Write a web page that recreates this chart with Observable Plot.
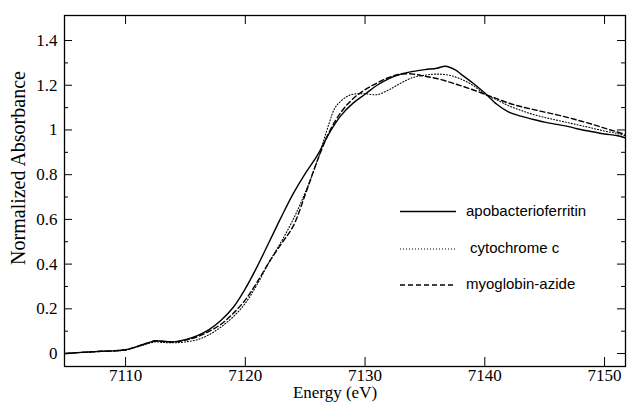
<!DOCTYPE html>
<html><head><meta charset="utf-8">
<script src="https://cdn.jsdelivr.net/npm/d3@7"></script>
<script src="https://cdn.jsdelivr.net/npm/@observablehq/plot@0.6"></script>
<style>
html,body{margin:0;padding:0;background:#fff;}
#wrap{position:relative;width:628px;height:402px;overflow:hidden;}
#legend{position:absolute;left:0;top:0;pointer-events:none;}
</style></head><body><div id="wrap"></div>
<script>
// ---- data ----
const apoE = [7105,7106,7107,7108,7109,7110,7111,7112,7112.5,7113,7114,7115,7116,7117,7118,7119,7120,7121,7122,7123,7124,7125,7126,7127,7128,7129,7130,7131,7132,7133,7134,7135,7136,7136.7,7137.5,7138,7139,7140,7141,7142,7143,7144,7145,7146,7147,7148,7149,7150,7151,7151.7];
const apoA = [0.0,0.004,0.007,0.01,0.012,0.017,0.032,0.05,0.057,0.055,0.052,0.062,0.08,0.108,0.15,0.207,0.29,0.39,0.5,0.61,0.715,0.805,0.885,0.985,1.065,1.12,1.16,1.2,1.23,1.25,1.262,1.27,1.276,1.285,1.27,1.25,1.21,1.165,1.115,1.08,1.062,1.048,1.035,1.025,1.015,1.002,0.992,0.982,0.975,0.965];

const cytE = [7105,7106,7107,7108,7109,7110,7111,7112,7112.5,7113,7114,7115,7116,7117,7118,7119,7120,7121,7122,7123,7124,7125,7126,7127,7127.5,7128,7128.5,7129,7130,7131,7132,7133,7134,7135,7136,7137,7138,7139,7140,7141,7142,7143,7144,7145,7146,7147,7148,7149,7150,7151,7151.7];
const cytA = [0.0,0.004,0.007,0.01,0.012,0.015,0.03,0.046,0.052,0.05,0.048,0.052,0.062,0.085,0.12,0.165,0.225,0.31,0.41,0.5,0.6,0.72,0.86,1.03,1.1,1.13,1.15,1.16,1.162,1.158,1.18,1.21,1.235,1.245,1.25,1.245,1.228,1.2,1.16,1.135,1.108,1.088,1.07,1.056,1.044,1.032,1.02,1.008,0.995,0.985,0.975];

const myoE = [7105,7106,7107,7108,7109,7110,7111,7112,7112.5,7113,7114,7115,7116,7117,7118,7119,7120,7121,7122,7123,7124,7125,7126,7127,7128,7129,7130,7131,7132,7133,7134,7135,7136,7137,7138,7139,7140,7141,7142,7143,7144,7145,7146,7147,7148,7149,7150,7151,7151.7];
const myoA = [0.0,0.004,0.007,0.01,0.012,0.017,0.032,0.05,0.056,0.055,0.052,0.06,0.075,0.1,0.132,0.18,0.24,0.32,0.41,0.49,0.57,0.71,0.86,0.99,1.08,1.14,1.18,1.21,1.235,1.25,1.25,1.24,1.23,1.215,1.198,1.18,1.16,1.14,1.12,1.105,1.092,1.08,1.068,1.055,1.04,1.025,1.008,0.992,0.98];

const seriesNames = ["apobacterioferritin", "cytochrome c", "myoglobin-azide"];
const xTicks = [7110, 7120, 7130, 7140, 7150];
const yTicks = [0, 0.2, 0.4, 0.6, 0.8, 1, 1.2, 1.4];
const yMinorTicks = [0.1, 0.3, 0.5, 0.7, 0.9, 1.1, 1.3];
const xDomain = [7104.9, 7151.75];
const yDomain = [-0.058, 1.512];
const xLabel = "Energy (eV)";
const yLabel = "Normalized Absorbance";

// ---- layout ----
const W = 628, H = 402, mt = 15, mr = 3, mb = 36, ml = 64;
const pw = W - ml - mr, ph = H - mt - mb;
const toRows = (E, A) => E.map((e, i) => ({e, a: A[i]}));

const styles = [
  {stroke: "#000", strokeWidth: 1.4},
  {stroke: "#000", strokeWidth: 1.1, strokeDasharray: "1,2"},
  {stroke: "#000", strokeWidth: 1.4, strokeDasharray: "5,3"}
];

const plot = Plot.plot({
  width: W, height: H,
  marginTop: mt, marginRight: mr, marginBottom: mb, marginLeft: ml,
  style: {fontFamily: "'Liberation Serif', 'Times New Roman', serif", fontSize: "17px", color: "#000", background: "#fff"},
  x: {domain: xDomain, label: null},
  y: {domain: yDomain, label: null},
  marks: [
    Plot.frame({stroke: "#000", strokeWidth: 1.3}),
    Plot.axisX(xTicks, {tickSize: 0, tickPadding: 2, tickFormat: d => String(d), fontSize: 17, label: null}),
    Plot.axisY(yTicks, {tickSize: 0, tickPadding: 7, tickFormat: d3.format("~g"), fontSize: 17, label: null}),
    // inward ticks on all four sides
    Plot.tickY(yTicks, {y: d => d, insetRight: pw - 8, stroke: "#000", strokeWidth: 1}),
    Plot.tickY(yMinorTicks, {y: d => d, insetRight: pw - 4, stroke: "#000", strokeWidth: 1}),
    Plot.tickY(yTicks, {y: d => d, insetLeft: pw - 8, stroke: "#000", strokeWidth: 1}),
    Plot.tickY(yMinorTicks, {y: d => d, insetLeft: pw - 4, stroke: "#000", strokeWidth: 1}),
    Plot.tickX(xTicks, {x: d => d, insetTop: ph - 9, stroke: "#000", strokeWidth: 1}),
    Plot.tickX(xTicks, {x: d => d, insetBottom: ph - 9, stroke: "#000", strokeWidth: 1}),
    Plot.line(toRows(apoE, apoA), {x: "e", y: "a", curve: "catmull-rom", ...styles[0]}),
    Plot.line(toRows(cytE, cytA), {x: "e", y: "a", curve: "catmull-rom", ...styles[1]}),
    Plot.line(toRows(myoE, myoA), {x: "e", y: "a", curve: "catmull-rom", ...styles[2]}),
    Plot.text([xLabel], {frameAnchor: "bottom", textAnchor: "middle", dx: -10, dy: 26, fontSize: 17, lineAnchor: "middle"}),
    Plot.text([yLabel], {frameAnchor: "left", textAnchor: "middle", rotate: -90, dx: -46, dy: -23, fontSize: 20, lineAnchor: "middle"})
  ]
});
document.getElementById("wrap").appendChild(plot);

// ---- legend overlay ----
const legendRows = [
  {y: 211.5, ty: 215.5, tx: 466},
  {y: 249, ty: 252.5, tx: 470},
  {y: 285, ty: 288.5, tx: 466}
];
const svg = d3.select("#wrap").append("svg").attr("id", "legend")
  .attr("width", W).attr("height", H);
seriesNames.forEach((name, i) => {
  const r = legendRows[i], s = styles[i];
  svg.append("line").attr("x1", 400).attr("x2", 456).attr("y1", r.y).attr("y2", r.y)
    .attr("stroke", s.stroke).attr("stroke-width", s.strokeWidth)
    .attr("stroke-dasharray", s.strokeDasharray || null);
  svg.append("text").attr("x", r.tx).attr("y", r.ty).text(name)
    .attr("font-family", "'Liberation Sans', Arial, sans-serif").attr("font-size", 15).attr("fill", "#000");
});
</script></body></html>
